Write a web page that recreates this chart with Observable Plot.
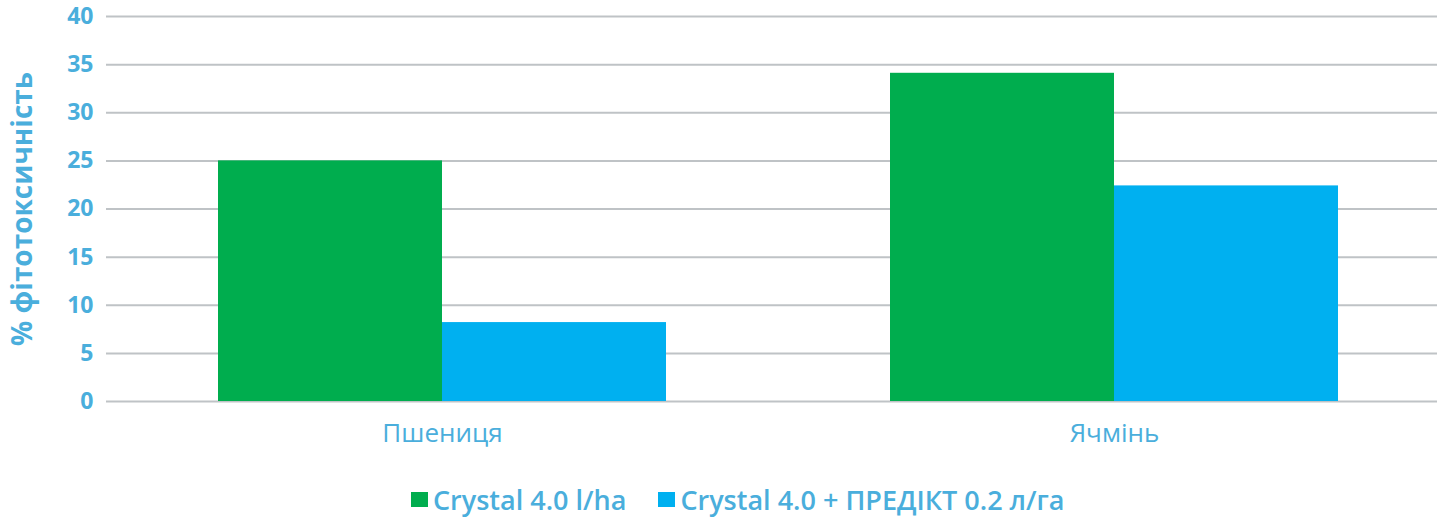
<!DOCTYPE html>
<html>
<head>
<meta charset="utf-8">
<script src="https://cdn.jsdelivr.net/npm/d3@7"></script>
<script src="https://cdn.jsdelivr.net/npm/@observablehq/plot@0.6"></script>
<style>
  html, body { margin: 0; padding: 0; background: #fff; overflow: hidden; width: 1437px; height: 518px; }
  #chart svg { display: block; max-width: none !important; }
  .legend { position: absolute; top: 481px; left: 411px; display: flex; align-items: center;
            font-family: "Open Sans", sans-serif; font-size: 27px; color: #4aaedc; font-weight: 600; white-space: nowrap; }
  .legend .item { display: flex; align-items: center; }
  .legend .sw { width: 17px; height: 15px; margin-right: 5px; }
</style>
</head>
<body>
<div id="chart"></div>
<div class="legend" id="legend"></div>
<script>
const categories = ["Пшениця", "Ячмінь"];
const seriesNames = ["Crystal 4.0 l/ha", "Crystal 4.0 + ПРЕДІКТ 0.2 л/га"];
const crystalValues = [25, 34.1];
const predictValues = [8.2, 22.4];
const seriesColors = ["#00ad4e", "#00b0f0"];
const yTicks = [0, 5, 10, 15, 20, 25, 30, 35, 40];
const yLabel = "% фітотоксичність";

const data = [];
categories.forEach((c, i) => {
  data.push({category: c, series: seriesNames[0], value: crystalValues[i]});
  data.push({category: c, series: seriesNames[1], value: predictValues[i]});
});

const textColor = "#4aaedc";

const chart = Plot.plot({
  width: 1451,
  height: 470,
  marginLeft: 106,
  marginRight: 1,
  marginTop: 16,
  marginBottom: 69,
  style: {fontFamily: "'Open Sans', sans-serif", background: "#fff", overflow: "visible"},
  fx: {domain: categories, padding: 0, label: null},
  x: {domain: seriesNames, paddingInner: 0, paddingOuter: 0.5, axis: null},
  y: {domain: [0, 40], ticks: yTicks},
  color: {domain: seriesNames, range: seriesColors},
  marks: [
    Plot.gridY(yTicks, {stroke: "#bfc3c6", strokeOpacity: 1, strokeWidth: 2}),
    Plot.barY(data, {fx: "category", x: "series", y: "value", fill: "series"}),
    Plot.axisY(yTicks, {
      tickSize: 0, tickPadding: 13, fontSize: 23, fontWeight: 700, fill: textColor,
      label: yLabel, labelAnchor: "center", labelOffset: 94, labelArrow: "none"
    }),
    Plot.axisFx({
      anchor: "bottom", tickSize: 0, tickPadding: 22, fontSize: 26, fontWeight: 500, fill: textColor, label: null
    })
  ]
});
document.getElementById("chart").appendChild(chart);

d3.select(chart).selectAll("[aria-label='y-axis label'] text, [aria-label='y-axis label']")
  .attr("font-size", 28).attr("font-weight", 700).attr("fill", textColor);

const legend = document.getElementById("legend");
seriesNames.forEach((s, i) => {
  const item = document.createElement("div");
  item.className = "item";
  if (i > 0) item.style.marginLeft = "32px";
  const sw = document.createElement("div");
  sw.className = "sw";
  sw.style.background = seriesColors[i];
  const t = document.createElement("span");
  t.textContent = s;
  item.appendChild(sw);
  item.appendChild(t);
  legend.appendChild(item);
});
</script>
</body>
</html>
